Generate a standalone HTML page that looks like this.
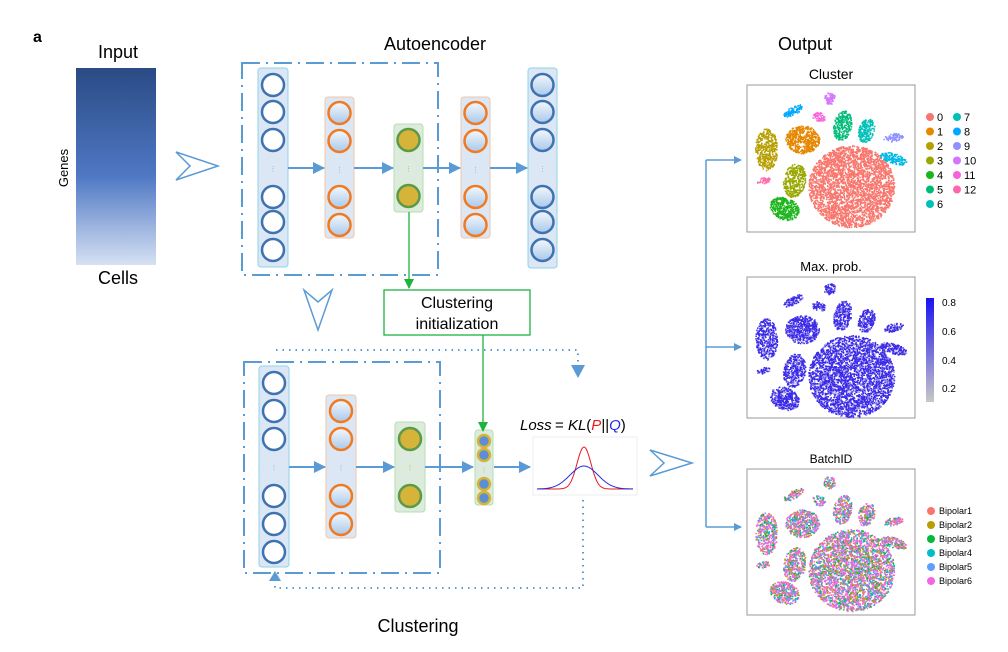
<!DOCTYPE html>
<html><head><meta charset="utf-8"><style>
body{margin:0;background:#fff;}
svg text{font-family:"Liberation Sans",Arial,sans-serif;}
</style></head><body>
<svg id="s" width="1008" height="647" viewBox="0 0 1008 647" xmlns="http://www.w3.org/2000/svg">
<defs>
<linearGradient id="inp" x1="0" y1="0" x2="0" y2="1">
<stop offset="0" stop-color="#2a4a84"/><stop offset="0.55" stop-color="#4f78c4"/><stop offset="1" stop-color="#d6e1f3"/></linearGradient>
<linearGradient id="nb" x1="0" y1="0" x2="0" y2="1"><stop offset="0" stop-color="#f4f8fd"/><stop offset="1" stop-color="#a9c8ea"/></linearGradient>
<marker id="ah" markerWidth="8" markerHeight="8" refX="7" refY="4" orient="auto" markerUnits="userSpaceOnUse"><path d="M0,0 L8,4 L0,8z" fill="#5b9bd5"/></marker>
<marker id="ah2" markerWidth="12" markerHeight="12" refX="11" refY="6" orient="auto" markerUnits="userSpaceOnUse"><path d="M0,0 L12,6 L0,12z" fill="#5b9bd5"/></marker>
<marker id="ag" markerWidth="10" markerHeight="10" refX="9" refY="5" orient="auto" markerUnits="userSpaceOnUse"><path d="M0,0 L10,5 L0,10z" fill="#1db33f"/></marker>
</defs>
<text x="33" y="42" font-size="16" font-weight="bold">a</text>
<text x="118" y="58" font-size="18" text-anchor="middle">Input</text>
<rect x="76" y="68" width="80" height="197" fill="url(#inp)"/>
<text x="68" y="168" font-size="13" text-anchor="middle" transform="rotate(-90 68 168)">Genes</text>
<text x="118" y="284" font-size="18" text-anchor="middle">Cells</text>
<path d="M176,152 L218,166 L176,180 L190,166z" fill="none" stroke="#5b9bd5" stroke-width="1.5"/>
<text x="435" y="50" font-size="18" text-anchor="middle">Autoencoder</text>
<text x="805" y="50" font-size="18" text-anchor="middle">Output</text>
<text x="418" y="632" font-size="18" text-anchor="middle">Clustering</text>
<path d="M304,290 L318,330 L332,290 L318,302z" fill="none" stroke="#5b9bd5" stroke-width="1.5"/>
<path d="M650,450 L692,463 L650,476 L664,463z" fill="none" stroke="#5b9bd5" stroke-width="1.5"/>
<rect x="242" y="63" width="196" height="212" fill="none" stroke="#5b9bd5" stroke-width="2" stroke-dasharray="18,6,2,6"/>
<rect x="244" y="362" width="196" height="211" fill="none" stroke="#5b9bd5" stroke-width="2" stroke-dasharray="18,6,2,6"/>
<g id="net"></g>
<line x1="409" y1="212" x2="409" y2="288" stroke="#1db33f" stroke-width="1.3" marker-end="url(#ag)"/>
<rect x="384" y="290" width="146" height="45" fill="#fff" stroke="#1db33f" stroke-width="1.3"/>
<text x="457" y="308" font-size="16" text-anchor="middle">Clustering</text>
<text x="457" y="329" font-size="16" text-anchor="middle">initialization</text>
<line x1="483" y1="335" x2="483" y2="431" stroke="#1db33f" stroke-width="1.3" marker-end="url(#ag)"/>
<path d="M276,350 L578,350 L578,366" fill="none" stroke="#5b9bd5" stroke-width="2" stroke-dasharray="1.5,5"/>
<path d="M571,365 L585,365 L578,378z" fill="#5b9bd5"/>
<path d="M583,500 L583,588 L275,588 L275,578" fill="none" stroke="#5b9bd5" stroke-width="2" stroke-dasharray="1.5,5"/>
<path d="M269,581 L281,581 L275,571z" fill="#5b9bd5"/>
<text x="520" y="430" font-size="15" font-style="italic">Loss</text>
<text x="555" y="430" font-size="15">= <tspan font-style="italic">KL</tspan>(<tspan font-style="italic" fill="#e8191c">P</tspan>||<tspan font-style="italic" fill="#1f2ee0">Q</tspan>)</text>
<rect x="533" y="437" width="104" height="58" fill="#fff" stroke="#eee"/>
<path id="rc" fill="none" stroke="#e8191c" stroke-width="1"/>
<path id="bc" fill="none" stroke="#2a2ae0" stroke-width="1"/>
<line x1="494" y1="467" x2="530" y2="467" stroke="#5b9bd5" stroke-width="2" marker-end="url(#ah2)"/>
<path d="M706,160 L706,527" stroke="#5b9bd5" stroke-width="1.5"/>
<line x1="706" y1="160" x2="741" y2="160" stroke="#5b9bd5" stroke-width="1.5" marker-end="url(#ah)"/>
<line x1="706" y1="347" x2="741" y2="347" stroke="#5b9bd5" stroke-width="1.5" marker-end="url(#ah)"/>
<line x1="706" y1="527" x2="741" y2="527" stroke="#5b9bd5" stroke-width="1.5" marker-end="url(#ah)"/>
<text x="831" y="79" font-size="14" text-anchor="middle">Cluster</text>
<text x="831" y="271" font-size="13" text-anchor="middle">Max. prob.</text>
<text x="831" y="463" font-size="12" text-anchor="middle">BatchID</text>
<rect x="747" y="85" width="168" height="147" fill="#fff" stroke="#999"/>
<rect x="747" y="277" width="168" height="141" fill="#fff" stroke="#999"/>
<rect x="747" y="469" width="168" height="146" fill="#fff" stroke="#999"/>
<g id="dots"></g>
<g id="leg" font-size="11"></g>
<defs><linearGradient id="cb" x1="0" y1="0" x2="0" y2="1"><stop offset="0" stop-color="#1a12f0"/><stop offset="1" stop-color="#c8c8c8"/></linearGradient></defs>
<rect x="926" y="298" width="8" height="104" fill="url(#cb)"/>
<g font-size="10"><text x="942" y="306">0.8</text><text x="942" y="335">0.6</text><text x="942" y="364">0.4</text><text x="942" y="392">0.2</text></g>
</svg>
<script>
var NS="http://www.w3.org/2000/svg";
function el(t,a,p){var e=document.createElementNS(NS,t);for(var k in a)e.setAttribute(k,a[k]);(p||document.getElementById('net')).appendChild(e);return e;}
function col(x,y1,y2,w,fill,stroke,cys,r,cstroke,cfill,dotIdx){
 el('rect',{x:x,y:y1,width:w,height:y2-y1,rx:3,fill:fill,stroke:stroke,'stroke-width':1});
 var cx=x+w/2;
 cys.forEach(function(cy,i){
  if(i===dotIdx){el('circle',{cx:cx,cy:cy,r:r,fill:'none',stroke:'#dde6f0','stroke-width':1});el('text',{x:cx,y:cy+3,'font-size':7,'text-anchor':'middle',fill:'#aab'}).textContent='⋮';}
  else el('circle',{cx:cx,cy:cy,r:r,fill:cfill,stroke:cstroke,'stroke-width':2.5});
 });
}
var B='#dbe7f4',BS='#8fd3ea',OS='#f2c6a8';
col(258,68,267,30,B,BS,[85,112,140,168,197,222,250],11,'#3f72b0','#fff',3);
col(325,97,238,29,B,OS,[113,141,169,197,225],11,'#f07a22','url(#nb)',2);
col(394,124,212,29,'#dcebdc','#b2e0b2',[140,168,196],11,'#5a9a48','#d6b43a',1);
col(461,97,238,29,B,OS,[113,141,169,197,225],11,'#f07a22','url(#nb)',2);
col(528,68,268,29,B,BS,[85,112,140,168,197,222,250],11,'#3f72b0','url(#nb)',3);
[[288,325],[354,394],[423,461],[490,528]].forEach(function(p){el('line',{x1:p[0],y1:168,x2:p[1]-1,y2:168,stroke:'#5b9bd5','stroke-width':2,'marker-end':'url(#ah2)'});});
col(259,366,567,30,B,BS,[383,411,439,467,496,524,552],11,'#3f72b0','#fff',3);
col(326,395,538,30,B,OS,[411,439,467,496,524],11,'#f07a22','url(#nb)',2);
col(395,422,512,30,'#dcebdc','#b2e0b2',[439,467,496],11,'#5a9a48','#d6b43a',1);
col(475,430,505,18,'#dcebdc','#b2e0b2',[441,455,469,484,498],6,'#d6b43a','#5b8fd5',2);
[[289,326],[356,395],[425,474]].forEach(function(p){el('line',{x1:p[0],y1:467,x2:p[1]-1,y2:467,stroke:'#5b9bd5','stroke-width':2,'marker-end':'url(#ah2)'});});
function curve(s,h){var d='';for(var i=0;i<=100;i++){var x=537+i*0.96,t=(x-584)/s,y=489-h*Math.exp(-t*t/2);d+=(i?'L':'M')+x.toFixed(1)+','+y.toFixed(1);}return d;}
document.getElementById('rc').setAttribute('d',curve(7,42));
document.getElementById('bc').setAttribute('d',curve(14,23));
var seed=7;function rnd(){seed=(seed*16807)%2147483647;return seed/2147483647;}
var g=document.getElementById('dots');
var cl=[[851,186,43,41,0,'#f8766d',3200],[802,139,17,14,0,'#e58700',500],[766,149,11,21,0,'#b79f00',400],[794,180,11,17,0.2,'#99a800',350],[784,208,15,11,0.4,'#1cb51c',350],[842,125,9,15,0.2,'#00bb78',250],[866,130,8,12,0.3,'#00c0b8',200],[893,158,14,5,0.3,'#00b8e5',150],[793,110,11,4,-0.5,'#00a9ff',90],[893,137,10,4,-0.2,'#8f91ff',80],[829,98,6,6,0,'#d575fe',70],[818,116,7,5,0.3,'#f962dd',60],[763,180,7,3,-0.2,'#ff65ac',40]];
function scatter(oy,mode){cl.forEach(function(c){var n=c[6];for(var i=0;i<n;i++){var a=rnd()*6.283,r=Math.sqrt(rnd());var dx=Math.cos(a)*r*c[2],dy=Math.sin(a)*r*c[3];var x=c[0]+dx*Math.cos(c[4])-dy*Math.sin(c[4]),y=c[1]+dx*Math.sin(c[4])+dy*Math.cos(c[4])+oy;var f=c[5];
if(mode==1){var v=rnd();f=v<0.85?'#3a2ae8':'#9a90e0';}
if(mode==2){f=['#f8766d','#b79f00','#00ba38','#00bfc4','#619cff','#f564e3'][Math.floor(rnd()*6)];if(rnd()<0.3)f='#f564e3';}
el('rect',{x:x.toFixed(1),y:y.toFixed(1),width:1.5,height:1.5,fill:f},g);}});}
scatter(0,0);scatter(190,1);scatter(384,2);
var lg=document.getElementById('leg');
var lc=['#f8766d','#e58700','#b79f00','#99a800','#1cb51c','#00bb78','#00c0b8','#00c0b8','#00a9ff','#8f91ff','#d575fe','#f962dd','#ff65ac'];
for(var i=0;i<13;i++){var cx=i<7?930:957,cy=117+(i<7?i:i-7)*14.5;el('circle',{cx:cx,cy:cy,r:4,fill:lc[i]},lg);el('text',{x:cx+7,y:cy+4},lg).textContent=i;}
var bl=['#f8766d','#b79f00','#00ba38','#00bfc4','#619cff','#f564e3'];
for(var i=0;i<6;i++){var cy=511+i*14;el('circle',{cx:931,cy:cy,r:4,fill:bl[i]},lg);el('text',{x:939,y:cy+3,'font-size':9},lg).textContent='Bipolar'+(i+1);}
</script>
</body></html>
